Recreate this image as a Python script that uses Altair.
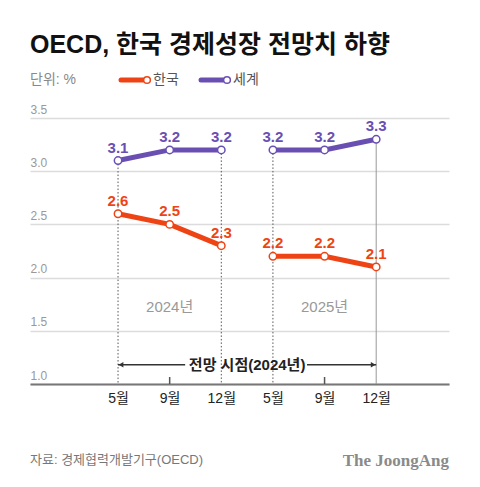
import json
import altair as alt
import pandas as pd

# ---- data ----
months = ["5월", "9월", "12월", "5월", "9월", "12월"]
years = ["2024년", "2024년", "2024년", "2025년", "2025년", "2025년"]
korea = [2.6, 2.5, 2.3, 2.2, 2.2, 2.1]
world = [3.1, 3.2, 3.2, 3.2, 3.2, 3.3]
series = ["한국", "세계"]
colors = ["#ee4415", "#6a4fb3"]
y_ticks = [1.0, 1.5, 2.0, 2.5, 3.0, 3.5]

guide_idx = [0, 2, 3, 5]
guide_style = ["dot", "dot", "dot", "solid"]
tick_idx = [1, 4]
year_label_idx = [1, 4]
year_labels = ["2024년", "2025년"]
year_label_y = [1.72, 1.72]
arrow_y = 1.18
arrow_from, arrow_to = 0, 5
arrow_gap = [1.30, 3.66]
arrow_text = "전망 시점(2024년)"
title = "OECD, 한국 경제성장 전망치 하향"
unit = "단위: %"
source = "자료: 경제협력개발기구(OECD)"
brand = "The JoongAng"

FONT = "Liberation Sans, Noto Sans CJK KR, sans-serif"

rows = []
for i in range(len(months)):
    rows.append({"idx": i, "series": series[0], "year": years[i], "value": korea[i]})
    rows.append({"idx": i, "series": series[1], "year": years[i], "value": world[i]})
df = pd.DataFrame(rows)

W, H = 419, 266
xscale = alt.Scale(domain=[-1.705, 6.41], nice=False, zero=False)
yscale = alt.Scale(domain=[1.0, 3.5], nice=False, zero=False)
cscale = alt.Scale(domain=series, range=colors)

month_expr = json.dumps(months, ensure_ascii=False) + "[datum.value]"

x_main = alt.X(
    "idx:Q", scale=xscale,
    axis=alt.Axis(values=list(range(len(months))), labelExpr=month_expr, ticks=False,
                  grid=False, domain=True, domainColor="#777", domainWidth=2,
                  labelFont=FONT, labelFontSize=14, labelColor="#222", labelPadding=7,
                  labelBaseline="top", labelFlush=False, title=None),
)
y_main = alt.Y(
    "value:Q", scale=yscale,
    axis=alt.Axis(values=y_ticks, format=".1f", grid=True, gridColor="#dcdcdc",
                  gridWidth=1.5, domain=False, ticks=False,
                  labelAlign="left", labelBaseline="bottom", labelPadding=0,
                  labelOffset=-2, labelColor="#999", labelFont=FONT, labelFontSize=12,
                  title=None),
)
X = alt.X("idx:Q", scale=xscale)
Y = alt.Y("value:Q", scale=yscale)

lines = alt.Chart(df).mark_line(strokeWidth=5).encode(
    x=x_main, y=y_main,
    color=alt.Color("series:N", scale=cscale, legend=None),
    detail="year:N",
)

# guides from world points down to the axis
gdf = pd.DataFrame({"idx": guide_idx, "value": [world[i] for i in guide_idx],
                    "style": guide_style})
guides_dot = alt.Chart(gdf[gdf["style"] == "dot"]).mark_rule(
    color="#555", strokeWidth=1, strokeDash=[1.5, 2]
).encode(x=X, y=Y, y2=alt.value(H))
guides_solid = alt.Chart(gdf[gdf["style"] == "solid"]).mark_rule(
    color="#999", strokeWidth=1
).encode(x=X, y=Y, y2=alt.value(H))

ticks = alt.Chart(pd.DataFrame({"idx": tick_idx})).mark_rule(
    color="#555", strokeWidth=1.5
).encode(x=X, y=alt.value(H - 7), y2=alt.value(H))

points = alt.Chart(df).mark_point(
    shape="circle", filled=False, fill="white", fillOpacity=1, opacity=1,
    size=55, strokeWidth=1.5
).encode(
    x=X, y=Y,
    stroke=alt.Stroke("series:N", scale=cscale, legend=None),
)

labels = alt.Chart(df).mark_text(
    dy=-8, baseline="alphabetic", fontWeight="bold", fontSize=15, font=FONT
).encode(
    x=X, y=Y,
    text=alt.Text("value:Q", format=".1f"),
    color=alt.Color("series:N", scale=cscale, legend=None),
)

ylab = alt.Chart(pd.DataFrame({"idx": year_label_idx, "value": year_label_y,
                               "t": year_labels})).mark_text(
    fontSize=15, color="#999", font=FONT, baseline="middle"
).encode(x=X, y=Y, text="t:N")

adf = pd.DataFrame({"idx": [arrow_from, arrow_gap[1]], "idx2": [arrow_gap[0], arrow_to],
                    "value": [arrow_y, arrow_y]})
arrow_lines = alt.Chart(adf).mark_rule(color="#333", strokeWidth=1.5).encode(
    x=X, x2="idx2:Q", y=Y)
head_l = alt.Chart(pd.DataFrame({"idx": [arrow_from], "value": [arrow_y]})).mark_point(
    shape="triangle-left", filled=True, color="#333", size=30, opacity=1
).encode(x=X, y=Y, xOffset=alt.value(3))
head_r = alt.Chart(pd.DataFrame({"idx": [arrow_to], "value": [arrow_y]})).mark_point(
    shape="triangle-right", filled=True, color="#333", size=30, opacity=1
).encode(x=X, y=Y, xOffset=alt.value(-3))
arrow_label = alt.Chart(pd.DataFrame({"idx": [(arrow_from + arrow_to) / 2],
                                      "value": [arrow_y], "t": [arrow_text]})).mark_text(
    fontSize=15, fontWeight="bold", color="#222", font=FONT, baseline="middle"
).encode(x=X, y=Y, text="t:N")


def txt(s, x, y, **kw):
    return alt.Chart(pd.DataFrame({"t": [s]})).mark_text(**kw).encode(
        x=alt.value(x), y=alt.value(y), text="t:N")


title_t = txt(title, 0, -73, align="left", baseline="middle", fontSize=25,
              fontWeight="bold", color="#111", font=FONT)
unit_t = txt(unit, 0, -38, align="left", baseline="middle", fontSize=14,
             color="#888", font=FONT)
source_t = txt(source, 0, 342, align="left", baseline="middle", fontSize=13,
               color="#777", font=FONT)
brand_t = txt(brand, W, 343, align="right", baseline="middle", fontSize=17,
              fontWeight="bold", color="#8a8a8a", font="Liberation Serif, serif")

# legend
legend_layers = []
lx = [91, 171]
for k, name in enumerate(series):
    legend_layers.append(
        alt.Chart(pd.DataFrame({"s": [name]})).mark_rule(
            strokeWidth=5, strokeCap="round", color=colors[k]
        ).encode(x=alt.value(lx[k]), x2=alt.value(lx[k] + 22), y=alt.value(-38))
    )
    legend_layers.append(
        alt.Chart(pd.DataFrame({"s": [name]})).mark_point(
            shape="circle", filled=False, fill="white", fillOpacity=1, opacity=1,
            size=45, strokeWidth=1.5, stroke=colors[k]
        ).encode(x=alt.value(lx[k] + 26), y=alt.value(-38))
    )
    legend_layers.append(
        txt(name, lx[k] + 32, -38, align="left", baseline="middle", fontSize=14,
            color="#555", font=FONT)
    )

chart = alt.layer(
    lines, guides_dot, guides_solid, ticks, points, labels, ylab,
    arrow_lines, head_l, head_r, arrow_label,
    title_t, unit_t, source_t, brand_t, *legend_layers,
).properties(
    width=W, height=H,
    autosize=alt.AutoSizeParams(type="none"),
    padding={"left": 22, "top": 110, "right": 23, "bottom": 95},
    background="white",
).configure_view(stroke=None)

chart.save("out.html", embed_options={"renderer": "svg", "actions": False})
